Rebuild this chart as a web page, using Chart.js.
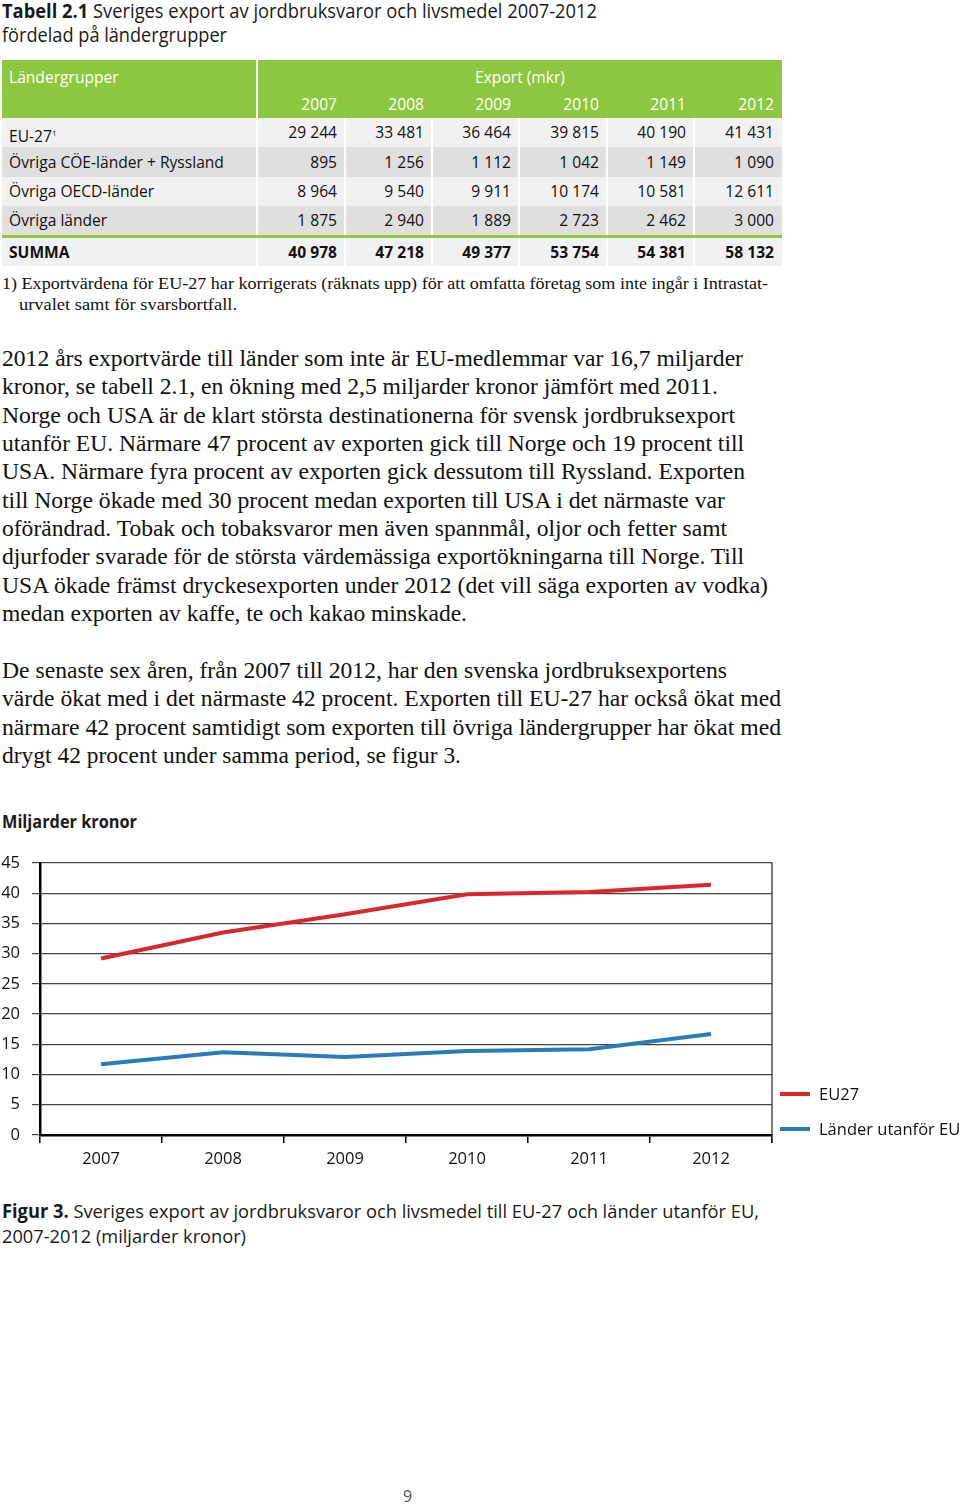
<!DOCTYPE html>
<html lang="sv">
<head>
<meta charset="utf-8">
<script src="https://cdn.jsdelivr.net/npm/chart.js@4/dist/chart.umd.min.js"></script>
<style>
  html,body{margin:0;padding:0;background:#fff;}
  body{width:960px;height:1504px;position:relative;overflow:hidden;font-family:"Open Sans",sans-serif;color:#1a1a1a;}
  .ln{position:absolute;white-space:nowrap;transform-origin:0 50%;}
  .serif{font-family:"Liberation Serif","Times New Roman",serif;color:#111;}
  .sans{font-family:"Open Sans",sans-serif;}
  .cell{position:absolute;box-sizing:border-box;white-space:nowrap;font-family:"Open Sans",sans-serif;font-size:15.6px;}
  #legend .item{position:absolute;left:780px;height:22px;}
  #legend .sw{position:absolute;left:0;top:9px;width:30px;height:4px;}
  #legend .tx{position:absolute;left:39px;top:0;line-height:22px;font-size:16.5px;font-family:"Open Sans",sans-serif;white-space:nowrap;color:#111;}
</style>
</head>
<body>
<div id="page"></div>
<div id="table"></div>
<canvas id="c" width="960" height="339" style="position:absolute;left:0;top:841px;width:960px;height:339px;"></canvas>
<div id="legend"></div>
<script>
// ---------- data ----------
const years = ['2007','2008','2009','2010','2011','2012'];
const groups = ['EU-27', 'Övriga CÖE-länder + Ryssland', 'Övriga OECD-länder', 'Övriga länder'];
const eu27Mkr   = [29244, 33481, 36464, 39815, 40190, 41431];
const coeMkr    = [895, 1256, 1112, 1042, 1149, 1090];
const oecdMkr   = [8964, 9540, 9911, 10174, 10581, 12611];
const ovrigaMkr = [1875, 2940, 1889, 2723, 2462, 3000];
const summaMkr  = [40978, 47218, 49377, 53754, 54381, 58132];

const seriesLabels = ['EU27', 'Länder utanför EU'];
const eu27Mdkr   = [29.2, 33.5, 36.5, 39.8, 40.2, 41.4];
const utanforMdkr = [11.7, 13.7, 12.9, 13.9, 14.2, 16.7];
const yTicks = [0, 5, 10, 15, 20, 25, 30, 35, 40, 45];

// ---------- texts ----------
const page = document.getElementById('page');
function line(html, cls, left, cy, size, lh, w, extra){
  const d = document.createElement('div');
  d.className = 'ln ' + cls;
  d.style.left = left + 'px';
  d.style.top = (cy - lh/2) + 'px';
  d.style.fontSize = size + 'px';
  d.style.lineHeight = lh + 'px';
  if (w) d.dataset.w = w;
  if (extra) Object.assign(d.style, extra);
  d.innerHTML = html;
  page.appendChild(d);
  return d;
}
// heading
line('<b>Tabell 2.1</b> Sveriges export av jordbruksvaror och livsmedel 2007-2012', 'sans', 2, 11, 19.5, 24, 595);
line('fördelad på ländergrupper', 'sans', 2, 35, 19.5, 24, 225);
// footnote
line('1) Exportvärdena för EU-27 har korrigerats (räknats upp) för att omfatta företag som inte ingår i Intrastat-', 'serif', 2, 283, 17.5, 20, 766);
line('urvalet samt för svarsbortfall.', 'serif', 19, 304, 17.5, 20, 218);
// paragraph 1
const p1 = [
  ['2012 års exportvärde till länder som inte är EU-medlemmar var 16,7 miljarder', 741],
  ['kronor, se tabell 2.1, en ökning med 2,5 miljarder kronor jämfört med 2011.', 716],
  ['Norge och USA är de klart största destinationerna för svensk jordbruksexport', 733],
  ['utanför EU. Närmare 47 procent av exporten gick till Norge och 19 procent till', 742],
  ['USA. Närmare fyra procent av exporten gick dessutom till Ryssland. Exporten', 743],
  ['till Norge ökade med 30 procent medan exporten till USA i det närmaste var', 723],
  ['oförändrad. Tobak och tobaksvaror men även spannmål, oljor och fetter samt', 725],
  ['djurfoder svarade för de största värdemässiga exportökningarna till Norge. Till', 742],
  ['USA ökade främst dryckesexporten under 2012 (det vill säga exporten av vodka)', 766],
  ['medan exporten av kaffe, te och kakao minskade.', 465]
];
const p1y = [359, 387, 416, 444, 472, 501, 529, 557, 586, 614];
p1.forEach((l,i)=>line(l[0], 'serif', 2, p1y[i], 23, 28, l[1]));
const p2 = [
  ['De senaste sex åren, från 2007 till 2012, har den svenska jordbruksexportens', 725],
  ['värde ökat med i det närmaste 42 procent. Exporten till EU-27 har också ökat med', 779],
  ['närmare 42 procent samtidigt som exporten till övriga ländergrupper har ökat med', 779],
  ['drygt 42 procent under samma period, se figur 3.', 459]
];
const p2y = [671, 699, 728, 756];
p2.forEach((l,i)=>line(l[0], 'serif', 2, p2y[i], 23, 28, l[1]));
// chart title and caption
line('<b>Miljarder kronor</b>', 'sans', 2, 822, 17, 22, 135);
line('<b>Figur 3.</b> Sveriges export av jordbruksvaror och livsmedel till EU-27 och länder utanför EU,', 'sans', 2, 1211, 19, 24, 757);
line('2007-2012 (miljarder kronor)', 'sans', 2, 1236, 19, 24, 244);
line('9', 'sans', 403, 1496, 16, 20, null, {color:'#555'});

// ---------- table ----------
const table = document.getElementById('table');
const colB = [2, 257, 345, 432, 519, 607, 694, 782];
function fmt(n){ return String(n).replace(/\B(?=(\d{3})+(?!\d))/g, ' '); }
function box(l, t, w, h, bg){
  const d = document.createElement('div');
  d.className = 'cell';
  Object.assign(d.style, {left:l+'px', top:t+'px', width:w+'px', height:h+'px', background:bg});
  table.appendChild(d); return d;
}
function txt(s, l, t, w, h, align, bold, color){
  const d = box(l, t, w, h, 'transparent');
  Object.assign(d.style, {lineHeight:h+'px', textAlign:align, fontWeight:bold?'700':'400', color:color||'#111', padding: align==='right' ? '0 8px 0 0' : '0 0 0 7px'});
  d.innerHTML = s; return d;
}
const green = '#8dc63f';
box(2, 60, 780, 58, green);
box(256, 60, 2, 58, '#fff');
txt('Ländergrupper', 2, 64, 255, 26, 'left', false, '#fff');
txt('Export (mkr)', 258, 64, 524, 26, 'center', false, '#fff').style.padding = '0';
years.forEach((y,i)=>txt(y, colB[i+1]+1, 91, colB[i+2]-colB[i+1]-1, 26, 'right', false, '#fff'));
const rows = [eu27Mkr, coeMkr, oecdMkr, ovrigaMkr];
const rowTop = [118, 147, 177, 206];
const rowH = [29, 30, 29, 29];
rows.forEach((vals, r)=>{
  const bg = r % 2 === 0 ? '#f1f1f1' : '#dfdfdf';
  box(2, rowTop[r], 780, rowH[r], bg);
  for (let k = 1; k < 7; k++) box(colB[k]-1, rowTop[r], 2, rowH[r], '#fff');
  txt(r===0 ? 'EU-27<sup style="font-size:8px;vertical-align:6px">1</sup>' : groups[r], 2, rowTop[r], 255, rowH[r], 'left');
  vals.forEach((v,i)=>txt(fmt(v), colB[i+1]+1, rowTop[r], colB[i+2]-colB[i+1]-1, rowH[r], 'right'));
});
box(2, 235, 780, 3, green);
box(2, 238, 780, 28, '#f1f1f1');
for (let k = 1; k < 7; k++) box(colB[k]-1, 238, 2, 28, '#fff');
txt('SUMMA', 2, 238, 255, 28, 'left', true);
summaMkr.forEach((v,i)=>txt(fmt(v), colB[i+1]+1, 238, colB[i+2]-colB[i+1]-1, 28, 'right', true));

// ---------- chart ----------
const red = '#d9272e', blue = '#2b7bb9';
const fontFam = '"Open Sans", sans-serif';
const rightBorder = {
  id:'rightBorder',
  afterDraw(c){
    const a = c.chartArea, g = c.ctx;
    g.save(); g.strokeStyle = '#333'; g.lineWidth = 1.3;
    g.beginPath(); g.moveTo(a.right, a.top - 0.5); g.lineTo(a.right, a.bottom + 8); g.stroke();
    g.restore();
  }
};
const chart = new Chart(document.getElementById('c'), {
  type:'line',
  data:{
    labels: years,
    datasets:[
      {label: seriesLabels[0], data: eu27Mdkr, borderColor: red, backgroundColor: red, borderWidth: 4, pointRadius: 0, tension: 0},
      {label: seriesLabels[1], data: utanforMdkr, borderColor: blue, backgroundColor: blue, borderWidth: 4, pointRadius: 0, tension: 0}
    ]
  },
  options:{
    responsive:false, animation:false, devicePixelRatio:1,
    layout:{padding:{top:3, right:188, left:0, bottom:0}},
    plugins:{legend:{display:false}, tooltip:{enabled:false}},
    scales:{
      x:{
        offset:true,
        grid:{display:true, drawOnChartArea:false, drawTicks:true, tickLength:8, color:'#000', lineWidth:1.5, offset:true},
        border:{display:true, color:'#000', width:2.5},
        ticks:{font:{family:fontFam, size:16.5}, color:'#111', padding:6, maxRotation:0},
        afterFit(s){ s.height = 45; }
      },
      y:{
        min:0, max:45,
        afterBuildTicks(s){ s.ticks = yTicks.map(v=>({value:v})); },
        ticks:{font:{family:fontFam, size:16.5}, color:'#111', padding:12},
        grid:{color:'#444', lineWidth:1.2, drawTicks:true, tickLength:8},
        border:{display:true, color:'#000', width:2.5},
        afterFit(s){ s.width = 40; }
      }
    }
  },
  plugins:[rightBorder]
});

// legend from datasets
const leg = document.getElementById('legend');
const legY = [1094, 1129];
chart.data.datasets.forEach((ds,i)=>{
  const it = document.createElement('div');
  it.className = 'item';
  it.style.top = (legY[i]-11) + 'px';
  it.innerHTML = '<div class="sw" style="background:'+ds.borderColor+'"></div><div class="tx">'+ds.label+'</div>';
  leg.appendChild(it);
});

// fit text lines to measured widths
function fit(){
  document.querySelectorAll('.ln[data-w]').forEach(el=>{
    el.style.transform = 'none';
    const w = el.getBoundingClientRect().width;
    const t = parseFloat(el.dataset.w);
    if (w > 0) el.style.transform = 'scaleX(' + (t / w) + ')';
  });
}
fit();
if (document.fonts && document.fonts.ready) document.fonts.ready.then(fit);
</script>
</body>
</html>
